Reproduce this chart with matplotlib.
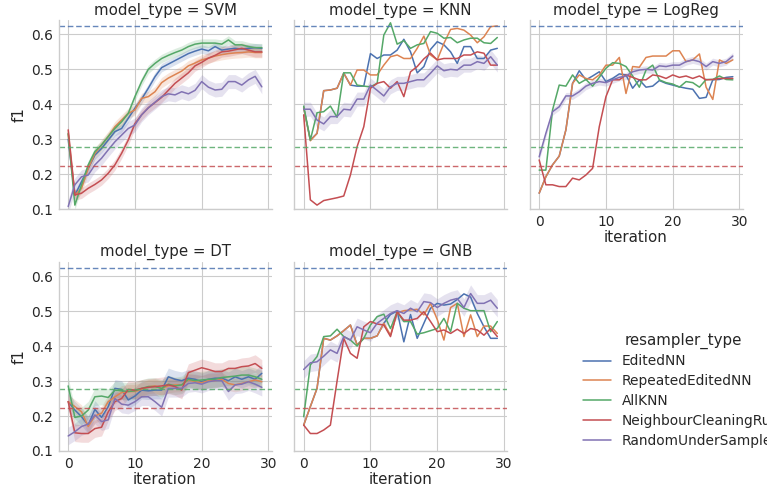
import numpy as np
import matplotlib
matplotlib.use('Agg')
import matplotlib.pyplot as plt
import seaborn as sns

sns.set_style('whitegrid')
plt.rcParams['font.family'] = ['DejaVu Sans']
plt.rcParams['text.color'] = '.15'
plt.rcParams['axes.labelcolor'] = '.15'
plt.rcParams['xtick.color'] = '.15'
plt.rcParams['ytick.color'] = '.15'

# ---- data ----
iteration = np.arange(30)
resamplers = ['EditedNN', 'RepeatedEditedNN', 'AllKNN', 'NeighbourCleaningRule', 'RandomUnderSampler']
models = ['SVM', 'KNN', 'LogReg', 'DT', 'GNB']

svm = [
    [0.300, 0.140, 0.179, 0.217, 0.255, 0.274, 0.298, 0.322, 0.331, 0.360, 0.389, 0.415, 0.446, 0.479, 0.505, 0.515, 0.525, 0.535, 0.545, 0.552, 0.558, 0.553, 0.565, 0.555, 0.558, 0.560, 0.558, 0.560, 0.562, 0.560],
    [0.315, 0.140, 0.160, 0.217, 0.260, 0.284, 0.308, 0.336, 0.355, 0.374, 0.384, 0.417, 0.422, 0.436, 0.462, 0.475, 0.485, 0.495, 0.510, 0.518, 0.527, 0.532, 0.538, 0.542, 0.545, 0.547, 0.548, 0.550, 0.548, 0.548],
    [0.317, 0.112, 0.170, 0.227, 0.265, 0.284, 0.308, 0.331, 0.350, 0.374, 0.422, 0.465, 0.500, 0.517, 0.531, 0.540, 0.548, 0.555, 0.565, 0.572, 0.575, 0.575, 0.575, 0.572, 0.584, 0.570, 0.570, 0.565, 0.562, 0.562],
    [0.327, 0.141, 0.146, 0.160, 0.171, 0.184, 0.203, 0.227, 0.260, 0.298, 0.345, 0.370, 0.390, 0.405, 0.420, 0.440, 0.460, 0.475, 0.490, 0.510, 0.520, 0.532, 0.540, 0.550, 0.552, 0.556, 0.560, 0.555, 0.550, 0.550],
    [0.108, 0.170, 0.193, 0.198, 0.227, 0.246, 0.270, 0.293, 0.312, 0.331, 0.341, 0.370, 0.390, 0.406, 0.422, 0.430, 0.427, 0.436, 0.430, 0.440, 0.465, 0.449, 0.441, 0.443, 0.465, 0.465, 0.455, 0.470, 0.480, 0.450],
]
knn = [
    [0.390, 0.298, 0.317, 0.439, 0.441, 0.446, 0.489, 0.455, 0.452, 0.452, 0.545, 0.531, 0.541, 0.541, 0.555, 0.586, 0.550, 0.490, 0.508, 0.557, 0.579, 0.570, 0.550, 0.517, 0.565, 0.565, 0.531, 0.531, 0.555, 0.560],
    [0.390, 0.296, 0.317, 0.439, 0.441, 0.446, 0.489, 0.455, 0.498, 0.498, 0.484, 0.484, 0.512, 0.536, 0.541, 0.531, 0.531, 0.560, 0.595, 0.541, 0.527, 0.574, 0.614, 0.617, 0.612, 0.598, 0.576, 0.593, 0.622, 0.624],
    [0.395, 0.298, 0.376, 0.379, 0.395, 0.363, 0.490, 0.490, 0.455, 0.452, 0.450, 0.460, 0.598, 0.633, 0.572, 0.582, 0.560, 0.570, 0.574, 0.608, 0.603, 0.589, 0.591, 0.576, 0.584, 0.589, 0.589, 0.576, 0.574, 0.591],
    [0.370, 0.127, 0.112, 0.125, 0.129, 0.133, 0.138, 0.198, 0.279, 0.336, 0.446, 0.460, 0.465, 0.446, 0.465, 0.422, 0.493, 0.508, 0.530, 0.546, 0.527, 0.531, 0.531, 0.531, 0.541, 0.541, 0.550, 0.546, 0.512, 0.512],
    [0.386, 0.386, 0.355, 0.344, 0.365, 0.365, 0.386, 0.384, 0.415, 0.415, 0.455, 0.440, 0.424, 0.450, 0.460, 0.460, 0.465, 0.470, 0.470, 0.489, 0.510, 0.496, 0.500, 0.498, 0.512, 0.512, 0.522, 0.517, 0.536, 0.512],
]
logreg = [
    [0.146, 0.193, 0.227, 0.252, 0.327, 0.460, 0.496, 0.470, 0.481, 0.493, 0.465, 0.474, 0.487, 0.484, 0.446, 0.470, 0.449, 0.452, 0.468, 0.460, 0.455, 0.450, 0.446, 0.443, 0.417, 0.420, 0.470, 0.471, 0.477, 0.479],
    [0.146, 0.193, 0.227, 0.252, 0.327, 0.460, 0.484, 0.474, 0.470, 0.484, 0.512, 0.512, 0.534, 0.431, 0.508, 0.506, 0.534, 0.538, 0.538, 0.538, 0.553, 0.553, 0.522, 0.527, 0.544, 0.449, 0.414, 0.527, 0.517, 0.527],
    [0.212, 0.212, 0.384, 0.455, 0.452, 0.484, 0.460, 0.471, 0.452, 0.477, 0.503, 0.519, 0.517, 0.508, 0.481, 0.449, 0.498, 0.512, 0.470, 0.462, 0.458, 0.449, 0.465, 0.462, 0.449, 0.471, 0.471, 0.481, 0.471, 0.470],
    [0.241, 0.170, 0.170, 0.165, 0.165, 0.189, 0.184, 0.198, 0.217, 0.336, 0.422, 0.470, 0.470, 0.484, 0.477, 0.470, 0.470, 0.484, 0.481, 0.474, 0.484, 0.477, 0.481, 0.474, 0.481, 0.470, 0.471, 0.474, 0.474, 0.474],
    [0.250, 0.317, 0.379, 0.393, 0.424, 0.424, 0.436, 0.452, 0.460, 0.465, 0.462, 0.470, 0.477, 0.481, 0.493, 0.498, 0.500, 0.498, 0.510, 0.508, 0.512, 0.512, 0.522, 0.527, 0.522, 0.508, 0.522, 0.517, 0.522, 0.538],
]
dt = [
    [0.241, 0.217, 0.198, 0.174, 0.219, 0.196, 0.227, 0.279, 0.276, 0.246, 0.257, 0.274, 0.272, 0.274, 0.274, 0.312, 0.305, 0.301, 0.308, 0.305, 0.298, 0.305, 0.308, 0.308, 0.301, 0.312, 0.305, 0.312, 0.305, 0.322],
    [0.241, 0.227, 0.212, 0.170, 0.200, 0.208, 0.241, 0.255, 0.267, 0.270, 0.270, 0.276, 0.284, 0.286, 0.279, 0.286, 0.289, 0.289, 0.303, 0.298, 0.295, 0.301, 0.301, 0.305, 0.293, 0.289, 0.293, 0.298, 0.303, 0.298],
    [0.286, 0.196, 0.200, 0.217, 0.255, 0.257, 0.253, 0.274, 0.272, 0.270, 0.272, 0.279, 0.284, 0.284, 0.279, 0.291, 0.286, 0.289, 0.305, 0.301, 0.303, 0.305, 0.305, 0.310, 0.312, 0.314, 0.317, 0.317, 0.312, 0.305],
    [0.241, 0.152, 0.150, 0.150, 0.164, 0.168, 0.212, 0.241, 0.250, 0.276, 0.274, 0.279, 0.282, 0.284, 0.286, 0.289, 0.284, 0.274, 0.324, 0.331, 0.338, 0.333, 0.327, 0.327, 0.336, 0.336, 0.341, 0.343, 0.350, 0.336],
    [0.143, 0.155, 0.170, 0.177, 0.203, 0.184, 0.189, 0.250, 0.234, 0.231, 0.241, 0.255, 0.255, 0.241, 0.225, 0.279, 0.279, 0.279, 0.293, 0.295, 0.291, 0.298, 0.301, 0.301, 0.270, 0.289, 0.291, 0.298, 0.291, 0.282],
]
gnb = [
    [0.174, 0.227, 0.279, 0.422, 0.417, 0.429, 0.444, 0.460, 0.403, 0.422, 0.422, 0.429, 0.465, 0.490, 0.500, 0.412, 0.490, 0.422, 0.465, 0.508, 0.522, 0.517, 0.520, 0.533, 0.549, 0.540, 0.493, 0.455, 0.422, 0.422],
    [0.174, 0.227, 0.279, 0.422, 0.417, 0.429, 0.444, 0.460, 0.403, 0.422, 0.422, 0.429, 0.465, 0.431, 0.495, 0.501, 0.503, 0.505, 0.489, 0.522, 0.476, 0.417, 0.510, 0.522, 0.427, 0.489, 0.427, 0.457, 0.457, 0.436],
    [0.198, 0.346, 0.370, 0.427, 0.429, 0.448, 0.427, 0.417, 0.400, 0.422, 0.460, 0.484, 0.491, 0.450, 0.498, 0.470, 0.470, 0.434, 0.438, 0.444, 0.450, 0.479, 0.441, 0.522, 0.508, 0.501, 0.501, 0.501, 0.441, 0.470],
    [0.174, 0.150, 0.150, 0.160, 0.174, 0.300, 0.422, 0.379, 0.365, 0.455, 0.470, 0.463, 0.460, 0.427, 0.498, 0.474, 0.474, 0.479, 0.498, 0.470, 0.441, 0.446, 0.436, 0.448, 0.436, 0.450, 0.446, 0.431, 0.450, 0.427],
    [0.333, 0.352, 0.355, 0.371, 0.389, 0.379, 0.427, 0.417, 0.455, 0.446, 0.438, 0.465, 0.479, 0.493, 0.501, 0.493, 0.508, 0.498, 0.527, 0.524, 0.510, 0.522, 0.531, 0.536, 0.510, 0.550, 0.522, 0.522, 0.531, 0.508],
]
# half width of the confidence band per resampler (0 = no band)
band_svm = [0.012, 0.015, 0.012, 0.015, 0.02]
band_knn = [0, 0, 0, 0, 0.02]
band_logreg = [0, 0, 0, 0, 0.01]
band_dt = [0.025, 0.02, 0.025, 0.025, 0.025]
band_gnb = [0, 0, 0, 0, 0.025]

# dashed reference scores: (value, resampler colour index)
ref_lines = [(0.623, 0), (0.277, 2), (0.224, 3)]

panels = [(svm, band_svm), (knn, band_knn), (logreg, band_logreg), (dt, band_dt), (gnb, band_gnb)]
colors = sns.color_palette('deep', 5)

# ---- layout ----
W, H = 767, 493
fig = plt.figure(figsize=(W/100, H/100), dpi=100)
lefts = [58.5, 294, 529.5]
tops = [20, 261.7]
aw, ah = 213, 189.3
fs_tick, fs_lab = 9.9, 10.8

axes = []
for k, (model, (data, band)) in enumerate(zip(models, panels)):
    r, c = divmod(k, 3)
    ax = fig.add_axes([lefts[c]/W, 1-(tops[r]+ah)/H, aw/W, ah/H])
    axes.append(ax)
    for j, name in enumerate(resamplers):
        y = np.array(data[j])
        ax.plot(iteration, y, color=colors[j], lw=1.1, label=name)
        if band[j] > 0:
            ax.fill_between(iteration, y-band[j], y+band[j], color=colors[j], alpha=0.2, lw=0)
    for v, ci in ref_lines:
        ax.axhline(v, color=colors[ci], ls=(0, (4, 2)), lw=1.0, alpha=0.85)
    ax.set_xlim(-1.45, 30.45)
    ax.set_ylim(0.1, 0.641)
    ax.set_xticks([0, 10, 20, 30])
    ax.set_yticks([0.1, 0.2, 0.3, 0.4, 0.5, 0.6])
    ax.grid(True, color='.8', lw=0.8)
    for s in ['top', 'right']:
        ax.spines[s].set_visible(False)
    for s in ['left', 'bottom']:
        ax.spines[s].set_color('.8')
        ax.spines[s].set_linewidth(1.0)
    ax.tick_params(length=0, labelsize=fs_tick, pad=4)
    ax.set_title('model_type = ' + model, fontsize=fs_lab, pad=4)
    if c == 0:
        ax.set_ylabel('f1', fontsize=fs_lab, labelpad=3)
    else:
        ax.tick_params(labelleft=False)
    if k >= 2:
        ax.set_xlabel('iteration', fontsize=fs_lab, labelpad=1)
    else:
        ax.tick_params(labelbottom=False)

handles, labels = axes[0].get_legend_handles_labels()
leg = fig.legend(handles, labels, title='resampler_type', loc='center left',
                 bbox_to_anchor=(571/W, 1-390/H), frameon=False,
                 fontsize=fs_tick, title_fontsize=fs_lab, handlelength=2.0,
                 labelspacing=0.42)

fig.savefig('out.png', dpi=100)
